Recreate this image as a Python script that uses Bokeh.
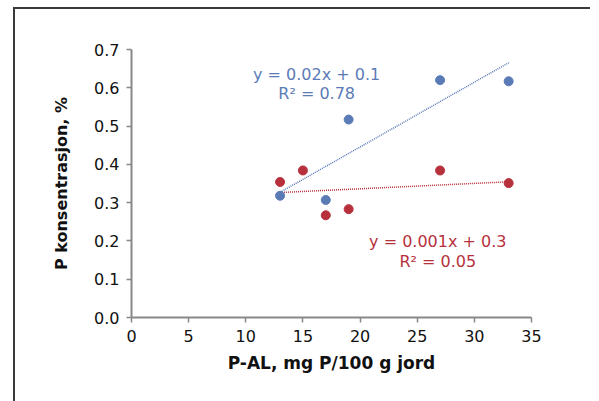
import numpy as np
from bokeh.plotting import figure
from bokeh.layouts import column
from bokeh.models import Range1d, Label, FixedTicker, CustomJSTickFormatter, Div
from bokeh.embed import file_html
from bokeh.resources import INLINE

# data
blue_x = [13, 17, 19, 27, 33]
blue_y = [0.318, 0.307, 0.517, 0.620, 0.617]
red_x = [13, 15, 17, 19, 27, 33]
red_y = [0.354, 0.384, 0.267, 0.283, 0.384, 0.351]
x_ticks = [0, 5, 10, 15, 20, 25, 30, 35]
y_ticks = [0.0, 0.1, 0.2, 0.3, 0.4, 0.5, 0.6, 0.7]
blue_eq = ["y = 0.02x + 0.1", "R\u00b2 = 0.78"]
red_eq = ["y = 0.001x + 0.3", "R\u00b2 = 0.05"]

BLUE = "#5b7bb7"
RED = "#b7313d"
FONT = "DejaVu Sans"

p = figure(width=575, height=392, output_backend="svg", toolbar_location=None,
           x_range=Range1d(0, 35), y_range=Range1d(0, 0.7),
           min_border_left=116, min_border_right=59, min_border_top=40, min_border_bottom=84)
p.styles = {"border-left": "2px solid #3a3a3a"}
p.margin = 0
p.outline_line_color = None
p.grid.visible = False
p.background_fill_color = "white"
p.border_fill_color = "white"

for ax in (p.xaxis[0], p.yaxis[0]):
    ax.axis_line_color = "#888888"
    ax.axis_line_width = 2
    ax.major_tick_line_color = "#888888"
    ax.major_tick_line_width = 1.5
    ax.major_tick_in = 0
    ax.major_tick_out = 5
    ax.minor_tick_line_color = None
    ax.major_label_text_font = FONT
    ax.major_label_text_font_size = "16px"
    ax.major_label_text_color = "#111111"
    ax.axis_label_text_font = FONT
    ax.axis_label_text_font_style = "bold"
    ax.axis_label_text_color = "#111111"

p.xaxis.axis_label_text_font_size = "17px"
p.yaxis.axis_label_text_font_size = "16px"
p.xaxis.ticker = FixedTicker(ticks=x_ticks)
p.yaxis.ticker = FixedTicker(ticks=y_ticks)
p.yaxis.formatter = CustomJSTickFormatter(code="return tick.toFixed(1);")
p.xaxis.axis_label = "P-AL, mg P/100 g jord"
p.yaxis.axis_label = "P konsentrasjon, %"
p.xaxis.major_label_standoff = 7
p.yaxis.major_label_standoff = 7
p.xaxis.axis_label_standoff = 8
p.yaxis.axis_label_standoff = 20

# trend lines (least squares fits)
for xs, ys, col in ((blue_x, blue_y, BLUE), (red_x, red_y, RED)):
    k, b = np.polyfit(xs, ys, 1)
    lx = [min(xs), max(xs)]
    p.line(lx, [k * v + b for v in lx], line_color=col, line_width=1.5, line_dash="1 1")

p.scatter(blue_x, blue_y, size=9, fill_color=BLUE, line_color=BLUE)
p.scatter(red_x, red_y, size=9, fill_color=RED, line_color=RED)

for txt, yy in zip(blue_eq, [0.635, 0.585]):
    p.add_layout(Label(x=16.2, y=yy, text=txt, text_align="center", text_baseline="middle",
                       text_font=FONT, text_font_size="16px", text_color=BLUE))
for txt, yy in zip(red_eq, [0.198, 0.146]):
    p.add_layout(Label(x=26.8, y=yy, text=txt, text_align="center", text_baseline="middle",
                       text_font=FONT, text_font_size="16px", text_color=RED))

top_rule = Div(text="", width=577, height=2, margin=0,
               styles={"background-color": "#3a3a3a"})
layout = column(top_rule, p, spacing=0,
                styles={"margin-left": "13px", "margin-top": "7px"})

open("out.html", "w").write(file_html(layout, INLINE))
